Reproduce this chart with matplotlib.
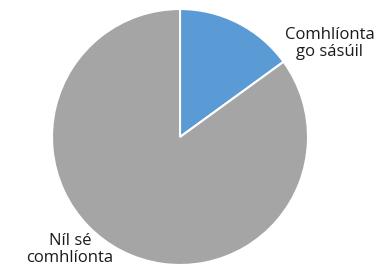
import matplotlib
matplotlib.use('agg')
import matplotlib.pyplot as plt

categories = ['Comhlíonta\ngo sásúil', 'Níl sé\ncomhlíonta']
shares = [15, 85]
colours = ['#5B9BD5', '#A5A5A5']
label_pos = [(1.17, 0.73), (-0.86, -0.88)]

W, H = 379, 276
fig = plt.figure(figsize=(W / 100, H / 100), dpi=100)
cx, cy, r = 180, 137, 128
ax = fig.add_axes([(cx - r) / W, (H - cy - r) / H, 2 * r / W, 2 * r / H])

ax.pie(shares, colors=colours, startangle=90, counterclock=False,
       radius=1, wedgeprops={'edgecolor': 'white', 'linewidth': 1.5})
ax.set_xlim(-1, 1)
ax.set_ylim(-1, 1)
ax.set_aspect('auto')

for lab, (x, y) in zip(categories, label_pos):
    ax.text(x, y, lab, ha='center', va='center', fontsize=12,
            family='Open Sans', color='#1a1a1a', linespacing=1.05, clip_on=False)

fig.savefig('out.png', dpi=100)
